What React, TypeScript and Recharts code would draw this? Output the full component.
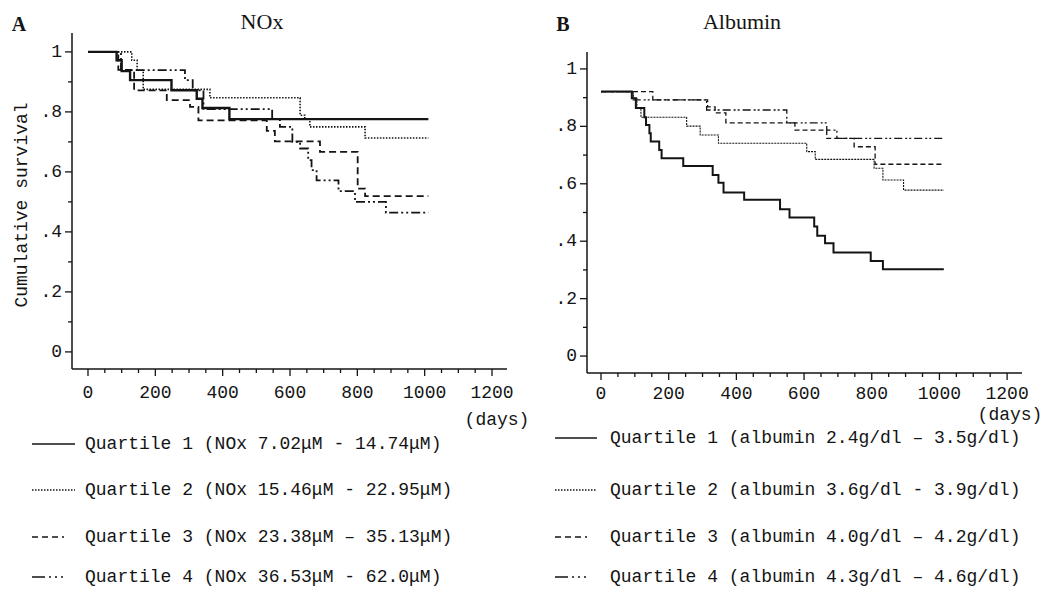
import React from 'react';
import { LineChart, Line, XAxis, YAxis } from 'recharts';

type Pt = [number, number];

// --- A: NOx quartiles, [days, cumulative survival] ---
const noxQ1: Pt[] = [[0, 1], [85, 0.972], [100, 0.936], [125, 0.906], [248, 0.872], [323, 0.844], [340, 0.813], [420, 0.776], [1011, 0.776]];
const noxQ2: Pt[] = [[0, 1], [130, 0.972], [146, 0.939], [164, 0.875], [362, 0.847], [630, 0.789], [644, 0.776], [659, 0.75], [823, 0.713], [1011, 0.713]];
const noxQ3: Pt[] = [[0, 1], [90, 0.94], [137, 0.872], [234, 0.839], [303, 0.817], [328, 0.772], [531, 0.737], [555, 0.702], [689, 0.667], [801, 0.544], [823, 0.519], [1011, 0.519]];
const noxQ4: Pt[] = [[0, 1], [98, 0.939], [288, 0.906], [311, 0.872], [343, 0.809], [547, 0.776], [570, 0.75], [607, 0.7], [630, 0.678], [654, 0.639], [664, 0.606], [679, 0.572], [744, 0.536], [793, 0.5], [885, 0.464], [1011, 0.464]];

// --- B: albumin quartiles ---
const albQ1: Pt[] = [[0, 0.921], [91, 0.898], [103, 0.864], [128, 0.832], [133, 0.805], [143, 0.776], [147, 0.747], [172, 0.718], [179, 0.689], [243, 0.662], [330, 0.631], [347, 0.604], [362, 0.57], [423, 0.544], [529, 0.511], [557, 0.483], [630, 0.451], [639, 0.419], [662, 0.393], [687, 0.361], [797, 0.331], [833, 0.302], [1013, 0.302]];
const albQ2: Pt[] = [[0, 0.921], [95, 0.898], [106, 0.864], [118, 0.832], [253, 0.801], [293, 0.77], [347, 0.741], [608, 0.712], [633, 0.685], [807, 0.654], [833, 0.613], [894, 0.578], [1013, 0.578]];
const albQ3: Pt[] = [[0, 0.921], [153, 0.892], [315, 0.868], [337, 0.847], [369, 0.812], [573, 0.787], [667, 0.758], [748, 0.729], [810, 0.668], [1013, 0.668]];
const albQ4: Pt[] = [[0, 0.921], [95, 0.892], [312, 0.857], [549, 0.812], [667, 0.787], [697, 0.758], [1013, 0.758]];

const xTicks = [0, 50, 100, 150, 200, 250, 300, 350, 400, 450, 500, 550, 600, 650, 700, 750, 800, 850, 900, 950, 1000, 1050, 1100, 1150, 1200];
const yTicks = [0, 0.1, 0.2, 0.3, 0.4, 0.5, 0.6, 0.7, 0.8, 0.9, 1];

const noxLegend = [
  'Quartile 1 (NOx 7.02μM - 14.74μM)',
  'Quartile 2 (NOx 15.46μM - 22.95μM)',
  'Quartile 3 (NOx 23.38μM – 35.13μM)',
  'Quartile 4 (NOx 36.53μM - 62.0μM)',
];
const albLegend = [
  'Quartile 1 (albumin 2.4g/dl – 3.5g/dl)',
  'Quartile 2 (albumin 3.6g/dl - 3.9g/dl)',
  'Quartile 3 (albumin 4.0g/dl – 4.2g/dl)',
  'Quartile 4 (albumin 4.3g/dl – 4.6g/dl)',
];

const INK = '#141414';
const MONO = "'Liberation Mono', 'DejaVu Sans Mono', monospace";
const SERIF = "'Liberation Serif', 'DejaVu Serif', serif";

const toRows = (pts: Pt[]) => pts.map(([t, s]) => ({ t, s }));

// tickSize/tickMargin are 0, so x,y come in on the axis line itself
const XTick = (props: any) => {
  const { x, y, payload, labelGap } = props;
  const major = payload.value % 200 === 0;
  return (
    <g>
      <line x1={x} x2={x} y1={y} y2={y + (major ? 7 : 4)} stroke={INK} strokeWidth={1.3} />
      {major && (
        <text x={x} y={y + labelGap} textAnchor="middle" dominantBaseline="central" fontFamily={MONO} fontSize={18} fill={INK}>
          {payload.value}
        </text>
      )}
    </g>
  );
};

const YTick = (props: any) => {
  const { x, y, payload } = props;
  const v = payload.value as number;
  const major = Math.round(v * 10) % 2 === 0;
  const label = v === 0 ? '0' : v === 1 ? '1' : '.' + Math.round(v * 10);
  return (
    <g>
      <line x1={x - (major ? 7 : 4)} x2={x} y1={y} y2={y} stroke={INK} strokeWidth={1.3} />
      {major && (
        <text x={x - 10} y={y} textAnchor="end" dominantBaseline="central" fontFamily={MONO} fontSize={18} fill={INK}>
          {label}
        </text>
      )}
    </g>
  );
};

interface PanelProps {
  left: number;
  width: number;
  margin: { top: number; right: number; bottom: number; left: number };
  xDomain: [number, number];
  yDomain: [number, number];
  series: Pt[][];
  styles: { w: number; dash?: string }[];
  labelGap: number;
}

const Panel = ({ left, width, margin, xDomain, yDomain, series, styles, labelGap }: PanelProps) => (
  <div style={{ position: 'absolute', left, top: 0 }}>
    <LineChart width={width} height={440} margin={margin}>
      <XAxis
        dataKey="t"
        type="number"
        domain={xDomain}
        ticks={xTicks}
        interval={0}
        allowDataOverflow
        height={40}
        tickSize={0}
        tickMargin={0}
        tickLine={false}
        tick={(p: any) => <XTick {...p} labelGap={labelGap} />}
        axisLine={{ stroke: INK, strokeWidth: 1.5 }}
      />
      <YAxis
        type="number"
        domain={yDomain}
        ticks={yTicks}
        interval={0}
        allowDataOverflow
        width={40}
        tickSize={0}
        tickMargin={0}
        tickLine={false}
        tick={(p: any) => <YTick {...p} />}
        axisLine={{ stroke: INK, strokeWidth: 1.5 }}
      />
      {series.map((pts, i) => (
        <Line
          key={i}
          data={toRows(pts)}
          dataKey="s"
          type="stepAfter"
          stroke={INK}
          strokeWidth={styles[i].w}
          strokeDasharray={styles[i].dash}
          dot={false}
          activeDot={false}
          isAnimationActive={false}
        />
      ))}
    </LineChart>
  </div>
);

const noxStyles = [{ w: 2.4 }, { w: 1.6, dash: '1.5 1.5' }, { w: 1.8, dash: '7 4' }, { w: 1.8, dash: '9 3 2 3 2 3' }];
const albStyles = [{ w: 2.0 }, { w: 1.1, dash: '2 1' }, { w: 1.3, dash: '5 3' }, { w: 1.3, dash: '8 3 2 2 2 3' }];

const legendDash = [undefined, '1.5 1.5', '6 4 6 4 6 4 2 20', '13 4 2 4 2 4 2 20'];
const legendWidth = [1.6, 1.3, 1.4, 1.6];

const Legend = ({ x0, x1, tx, rows, labels }: { x0: number; x1: number; tx: number; rows: number[]; labels: string[] }) => (
  <g>
    {labels.map((lab, i) => (
      <g key={i}>
        <line x1={x0} x2={x1} y1={rows[i]} y2={rows[i]} stroke={INK} strokeWidth={legendWidth[i]} strokeDasharray={legendDash[i]} />
        <text x={tx} y={rows[i]} dominantBaseline="central" fontFamily={MONO} fontSize={18} fill={INK}>
          {lab}
        </text>
      </g>
    ))}
  </g>
);

export default function App() {
  return (
    <div style={{ position: 'absolute', left: 0, top: 0, width: 1047, height: 589, background: '#fff', overflow: 'hidden' }}>
      <Panel
        left={0}
        width={530}
        margin={{ top: 33, right: 23, bottom: 31, left: 32 }}
        xDomain={[-47.5, 1244.5]}
        yDomain={[-0.057, 1.063]}
        series={[noxQ1, noxQ2, noxQ3, noxQ4]}
        styles={noxStyles}
        labelGap={24}
      />
      <Panel
        left={530}
        width={517}
        margin={{ top: 52, right: 25, bottom: 27, left: 17 }}
        xDomain={[-41.4, 1244]}
        yDomain={[-0.059, 1.059]}
        series={[albQ1, albQ2, albQ3, albQ4]}
        styles={albStyles}
        labelGap={21}
      />
      <svg width={1047} height={589} style={{ position: 'absolute', left: 0, top: 0, pointerEvents: 'none' }}>
        <text x={19} y={24} textAnchor="middle" dominantBaseline="central" fontFamily={SERIF} fontWeight="bold" fontSize={20} fill={INK}>A</text>
        <text x={262} y={21} textAnchor="middle" dominantBaseline="central" fontFamily={SERIF} fontSize={22} fill={INK}>NOx</text>
        <text x={563} y={24} textAnchor="middle" dominantBaseline="central" fontFamily={SERIF} fontWeight="bold" fontSize={20} fill={INK}>B</text>
        <text x={742} y={21} textAnchor="middle" dominantBaseline="central" fontFamily={SERIF} fontSize={22} fill={INK}>Albumin</text>
        <text
          x={22}
          y={205}
          transform="rotate(-90 22 205)"
          textAnchor="middle"
          dominantBaseline="central"
          fontFamily={MONO}
          fontSize={18}
          fill={INK}
        >
          Cumulative survival
        </text>
        <text x={497} y={420} textAnchor="middle" dominantBaseline="central" fontFamily={MONO} fontSize={18} fill={INK}>(days)</text>
        <text x={1010} y={415} textAnchor="middle" dominantBaseline="central" fontFamily={MONO} fontSize={18} fill={INK}>(days)</text>
        <Legend x0={32} x1={75} tx={85} rows={[444, 490, 537, 577]} labels={noxLegend} />
        <Legend x0={555} x1={597} tx={610} rows={[438, 490, 537, 577]} labels={albLegend} />
      </svg>
    </div>
  );
}
